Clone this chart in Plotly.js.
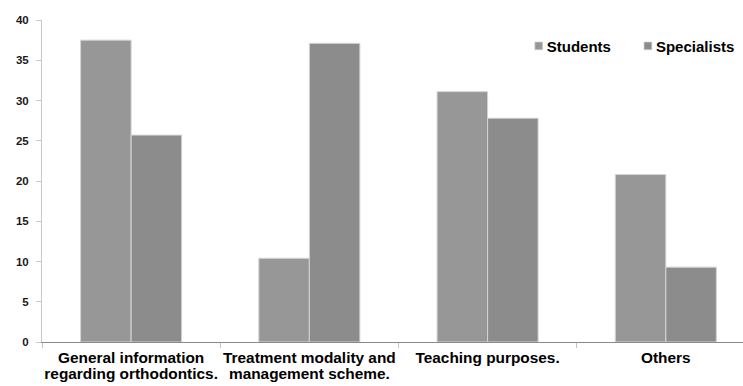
<!DOCTYPE html>
<html>
<head>
<meta charset="utf-8">
<script src="https://cdn.plot.ly/plotly-3.0.1.min.js"></script>
<style>
  html, body { margin: 0; padding: 0; background: #fff; overflow: hidden; }
  #chart { width: 743px; height: 386px; }
</style>
</head>
<body>
<div id="chart"></div>
<script>
// Purposes for which orthodontic information is sought
const categories = [
  "General information<br>regarding orthodontics.",
  "Treatment modality and<br>management scheme.",
  "Teaching purposes.",
  "Others"
];
const students = [37.5, 10.4, 31.1, 20.8];
const specialists = [25.7, 37.1, 27.8, 9.3];
const seriesNames = ["Students", "Specialists"];
const yTicks = [0, 5, 10, 15, 20, 25, 30, 35, 40];

const boldFont = "Liberation Sans, Arial, sans-serif";

const traces = [
  {
    type: "bar",
    name: seriesNames[0],
    x: categories,
    y: students,
    marker: { color: "#979797", line: { color: "#d4d4d4", width: 1 } },
    hoverinfo: "none"
  },
  {
    type: "bar",
    name: seriesNames[1],
    x: categories,
    y: specialists,
    marker: { color: "#8c8c8c", line: { color: "#d4d4d4", width: 1 } },
    hoverinfo: "none"
  }
];

const layout = {
  width: 743,
  height: 386,
  margin: { l: 42, r: 0, t: 20, b: 44, autoexpand: false },
  paper_bgcolor: "#ffffff",
  plot_bgcolor: "#ffffff",
  barmode: "group",
  bargap: 0.433,
  bargroupgap: 0,
  showlegend: true,
  legend: {
    orientation: "h",
    xref: "paper",
    yref: "paper",
    x: 0.663,
    y: 0.97,
    xanchor: "left",
    yanchor: "top",
    font: { family: boldFont, size: 15, color: "#000", weight: "bold" },
    bgcolor: "rgba(0,0,0,0)",
    itemclick: false,
    itemdoubleclick: false
  },
  xaxis: {
    type: "category",
    range: [-0.5, 3.433],
    showline: true,
    linecolor: "#8a8a8a",
    linewidth: 1,
    ticks: "outside",
    tickson: "boundaries",
    ticklen: 5,
    tickcolor: "#c4c4c4",
    tickangle: 0,
    ticklabelstandoff: 2,
    showgrid: false,
    zeroline: false,
    tickfont: { family: boldFont, size: 15.4, color: "#000", weight: "bold" },
    fixedrange: true
  },
  yaxis: {
    range: [0, 40],
    tickvals: yTicks,
    ticktext: yTicks.map(String),
    showline: true,
    linecolor: "#c8c8c8",
    linewidth: 1,
    ticks: "outside",
    ticklen: 5,
    tickcolor: "#c8c8c8",
    ticklabelstandoff: 5,
    showgrid: false,
    zeroline: false,
    tickfont: { family: boldFont, size: 11.5, color: "#1a1a1a", weight: "bold" },
    fixedrange: true
  }
};

Plotly.newPlot("chart", traces, layout, { staticPlot: true, displayModeBar: false }).then(function (gd) {
  // Smaller legend swatches sitting close to their labels
  gd.querySelectorAll(".legend .legendpoints").forEach(function (g) {
    g.setAttribute("transform", "translate(19,0) scale(0.65)");
  });
  // Tighter line spacing for the two-line category labels
  gd.querySelectorAll(".xtick text tspan.line").forEach(function (t) {
    const dy = t.getAttribute("dy");
    if (dy && dy.endsWith("em")) {
      const v = parseFloat(dy);
      if (v) t.setAttribute("dy", (v * 0.78).toFixed(3) + "em");
    }
  });
});
</script>
</body>
</html>
